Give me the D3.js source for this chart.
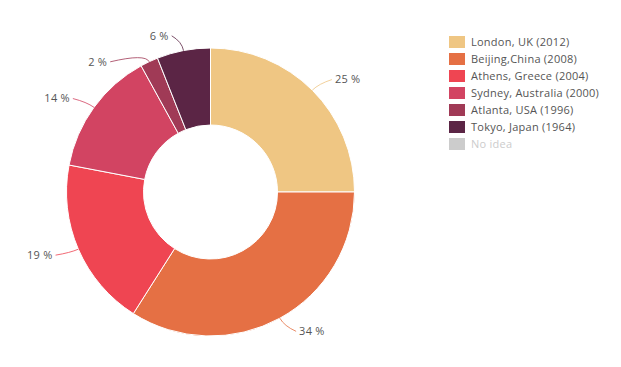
<!DOCTYPE html>
<html><head><meta charset="utf-8">
<script src="https://cdn.jsdelivr.net/npm/d3@7"></script>
<style>
html,body{margin:0;padding:0;background:#fff;}
svg{display:block;}
text{font-family:"Open Sans","DejaVu Sans",sans-serif;letter-spacing:0.25px;}
</style></head>
<body>
<svg id="chart" width="621" height="367"></svg>
<script>
const cities = ["London, UK (2012)","Beijing,China (2008)","Athens, Greece (2004)","Sydney, Australia (2000)","Atlanta, USA (1996)","Tokyo, Japan (1964)","No idea"];
const values = [25, 34, 19, 14, 2, 6, 0];
const hidden = [false,false,false,false,false,false,true];
const colors = ["#EFC683","#E57044","#EF4552","#D24462","#A03A56","#5B2545","#CCCCCC"];

const svg = d3.select("#chart");
const cx = 210.5, cy = 192, R = 144, r = 67;
const data = cities.map((c,i)=>({name:c,value:values[i],color:colors[i],hidden:hidden[i]}));
const shown = data.filter(d=>!d.hidden && d.value>0);
const total = d3.sum(shown, d=>d.value);

const pie = d3.pie().value(d=>d.value).sort(null);
const arcs = pie(shown);
const arc = d3.arc().innerRadius(r).outerRadius(R);

const g = svg.append("g").attr("transform",`translate(${cx},${cy})`);
g.selectAll("path.slice").data(arcs).enter().append("path")
  .attr("class","slice")
  .attr("d",arc)
  .attr("fill",d=>d.data.color)
  .attr("stroke","#fff").attr("stroke-width",1);

// labels
const LR = R + 15;
const labels = arcs.map(a=>{
  const m = (a.startAngle + a.endAngle)/2;
  return {a, m, right: Math.sin(m) >= 0,
    x: LR*Math.sin(m), y: -LR*Math.cos(m),
    text: d3.format(".0f")(a.data.value/total*100) + " %"};
});
// simple collision avoidance on each side
const gap = 26;
["left","right"].forEach(side=>{
  const L = labels.filter(l => (side==="right") === l.right).sort((p,q)=>p.y-q.y);
  for (let i=1;i<L.length;i++){
    if (L[i].y - L[i-1].y < gap){
      L[i].y = L[i-1].y + gap;
      const dx = Math.sqrt(Math.max(0, LR*LR - L[i].y*L[i].y));
      L[i].x = L[i].right ? dx : -dx;
    }
  }
});
labels.forEach(l=>{
  const off = 12;
  const tx = l.right ? l.x + off : l.x - off;
  const sx = R*Math.sin(l.m), sy = -R*Math.cos(l.m);
  const ex = (R+9)*Math.sin(l.m), ey = -(R+9)*Math.cos(l.m);
  const endX = l.right ? tx - 3 : tx + 3;
  g.append("path")
    .attr("d",`M${sx},${sy} Q${ex},${ey} ${endX},${l.y}`)
    .attr("fill","none").attr("stroke",l.a.data.color)
    .attr("stroke-opacity",0.8).attr("stroke-width",1);
  g.append("text")
    .attr("x",tx).attr("y",l.y).attr("dy","0.35em")
    .attr("text-anchor", l.right ? "start" : "end")
    .attr("font-size",11).attr("fill","#555")
    .text(l.text);
});

// legend
const legend = svg.append("g").attr("transform","translate(449,36)");
const row = legend.selectAll("g").data(data).enter().append("g")
  .attr("transform",(d,i)=>`translate(0,${i*17})`);
row.append("rect").attr("width",16).attr("height",12)
  .attr("fill",d=>d.hidden ? "#CCCCCC" : d.color);
row.append("text").attr("x",22).attr("y",6).attr("dy","0.35em")
  .attr("font-size",11)
  .attr("fill",d=>d.hidden ? "#CCCCCC" : "#555")
  .text(d=>d.name);
</script>
</body></html>
